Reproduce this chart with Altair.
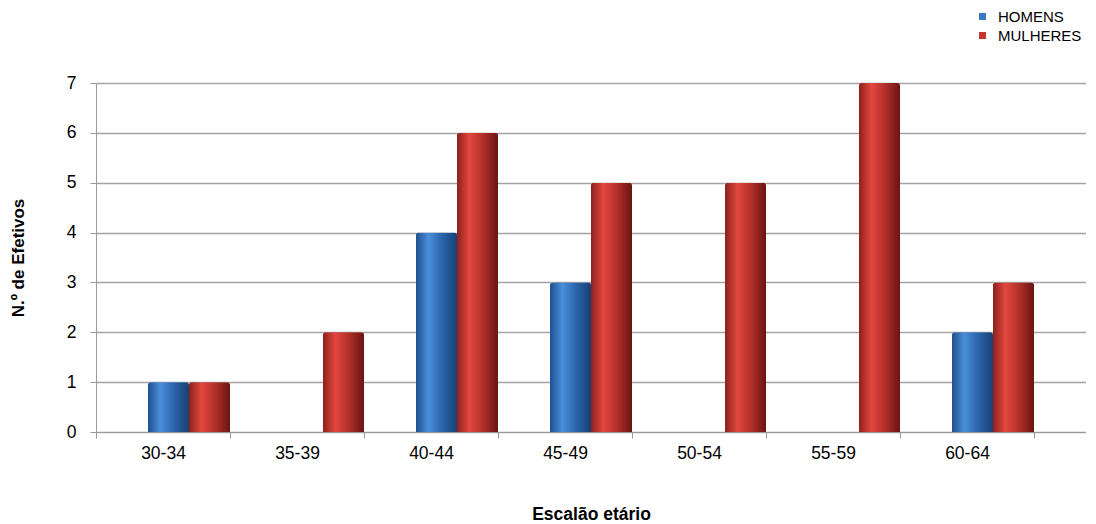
import altair as alt
import pandas as pd

categories = ["30-34", "35-39", "40-44", "45-49", "50-54", "55-59", "60-64"]
series = ["HOMENS", "MULHERES"]
homens = [1, 0, 4, 3, 0, 0, 2]
mulheres = [1, 2, 6, 5, 5, 7, 3]
colors = ["#3b78c4", "#c4372f"]

rows = []
for c, h, m in zip(categories, homens, mulheres):
    rows.append({"escalao": c, "sexo": "HOMENS", "n": h})
    rows.append({"escalao": c, "sexo": "MULHERES", "n": m})
df = pd.DataFrame(rows)

W, H = 990, 349
FONT = "Liberation Sans"

xscale = alt.Scale(domain=categories, paddingInner=0, paddingOuter=0.194, align=0)
xoff_scale = alt.Scale(domain=series, range=[52, 134], paddingInner=0, paddingOuter=0)
yscale = alt.Scale(domain=[0, 7], nice=False)

x_enc = alt.X(
    "escalao:N", scale=xscale, sort=categories,
    axis=alt.Axis(
        title="Escalão etário", tickBand="extent", grid=False, labelAngle=0,
        labelFontSize=17.5, labelFont=FONT, labelColor="#000000",
        labelBaseline="middle", labelPadding=15, tickSize=6,
        tickColor="#9a9a9a", domainColor="#9a9a9a",
        titleFontSize=17.5, titleFont=FONT, titleFontWeight="bold",
        titleColor="#000000", titleY=87, titleBaseline="alphabetic",
    ),
)
y_enc = alt.Y(
    "n:Q", scale=yscale,
    axis=alt.Axis(
        values=list(range(8)), title="N.º de Efetivos", grid=True,
        gridColor="#a3a3a3", gridWidth=1.3, domainColor="#9a9a9a",
        tickColor="#9a9a9a", tickSize=6, labelPadding=14,
        labelFontSize=17.5, labelFont=FONT, labelColor="#000000",
        titleFontSize=17, titleFont=FONT, titleFontWeight="bold",
        titleColor="#000000", titleX=-78, titleY=H / 2,
        titleBaseline="middle", titleAngle=270,
    ),
)
xoff_enc = alt.XOffset("sexo:N", scale=xoff_scale, sort=series)

base = alt.Chart(df).mark_bar(cornerRadiusTopLeft=3, cornerRadiusTopRight=3).encode(
    x=x_enc, y=y_enc, xOffset=xoff_enc,
    color=alt.Color(
        "sexo:N", scale=alt.Scale(domain=series, range=colors),
        legend=alt.Legend(
            title=None, orient="none", legendX=879, legendY=-74,
            symbolType="square", symbolSize=49, symbolStrokeWidth=0,
            labelFontSize=15, labelFont=FONT, labelColor="#000000",
            labelOffset=8, rowPadding=3, padding=0,
        ),
    ),
)

grad_blue = alt.LinearGradient(
    gradient="linear", x1=0, y1=0, x2=1, y2=0,
    stops=[
        alt.GradientStop(offset=0, color="#1f4f8e"),
        alt.GradientStop(offset=0.3, color="#4a8fdc"),
        alt.GradientStop(offset=0.6, color="#2e68b0"),
        alt.GradientStop(offset=1, color="#173f75"),
    ],
)
grad_red = alt.LinearGradient(
    gradient="linear", x1=0, y1=0, x2=1, y2=0,
    stops=[
        alt.GradientStop(offset=0, color="#8c211d"),
        alt.GradientStop(offset=0.3, color="#e2473f"),
        alt.GradientStop(offset=0.6, color="#b8322c"),
        alt.GradientStop(offset=1, color="#6a1513"),
    ],
)

blue = alt.Chart(df).transform_filter(alt.datum.sexo == "HOMENS").mark_bar(
    fill=grad_blue, cornerRadiusTopLeft=3, cornerRadiusTopRight=3
).encode(x=x_enc, y=y_enc, xOffset=xoff_enc)

red = alt.Chart(df).transform_filter(alt.datum.sexo == "MULHERES").mark_bar(
    fill=grad_red, cornerRadiusTopLeft=3, cornerRadiusTopRight=3
).encode(x=x_enc, y=y_enc, xOffset=xoff_enc)

chart = alt.layer(base, blue, red).properties(
    width=W, height=H,
    autosize=alt.AutoSizeParams(type="none"),
    padding={"left": 88, "top": 75, "right": 0, "bottom": 91},
).configure_view(stroke=None)

chart.save("out.html", embed_options={"renderer": "svg", "actions": False})
